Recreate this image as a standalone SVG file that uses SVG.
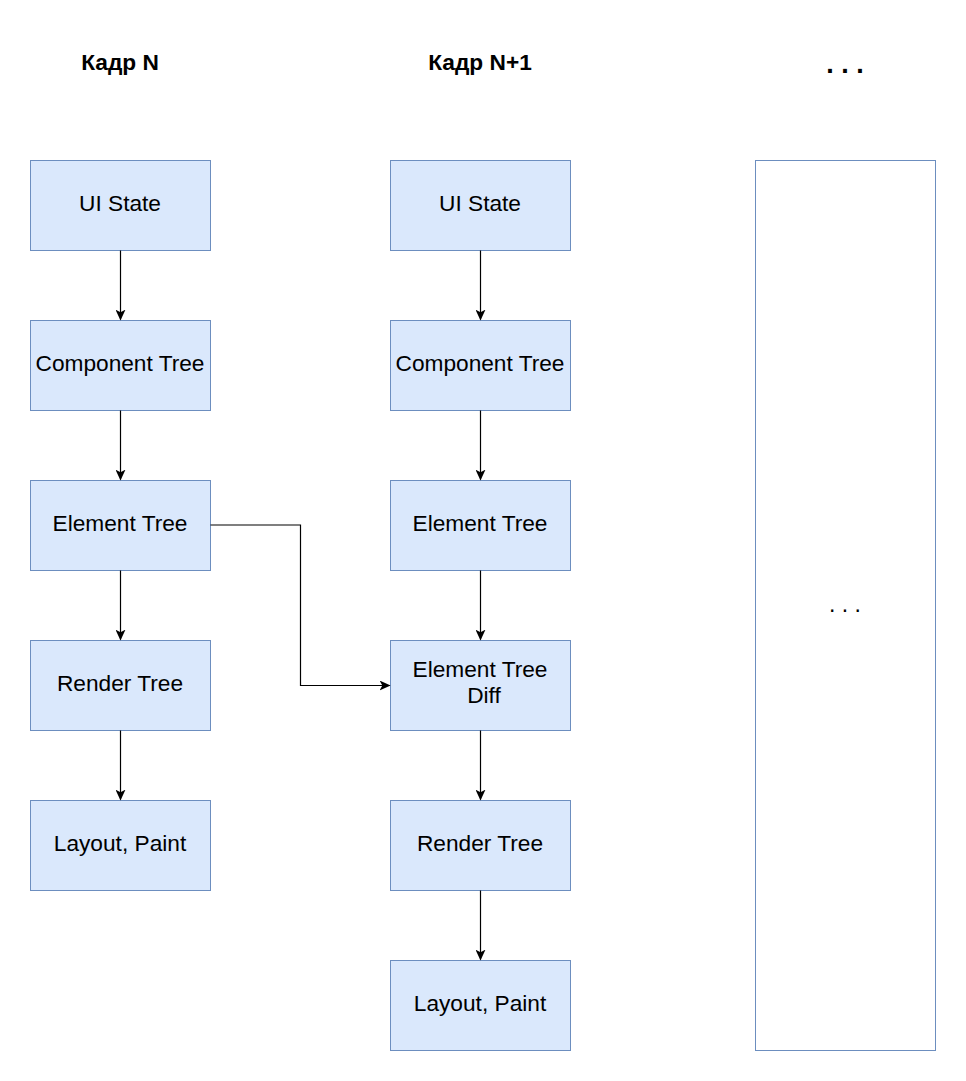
<svg xmlns="http://www.w3.org/2000/svg" width="966" height="1081" viewBox="0 0 966 1081">
<style>
.box{fill:#dae8fc;stroke:#6c8ebf;stroke-width:1}
.lbl{font-family:"Liberation Sans",Arial,sans-serif;font-size:22.7px;fill:#000;text-anchor:middle}
.ttl{font-family:"Liberation Sans",Arial,sans-serif;font-size:22.7px;font-weight:bold;fill:#000;text-anchor:middle}
.edge{fill:none;stroke:#000;stroke-width:1.2}
</style>
<defs>
<marker id="arr" viewBox="0 0 10 10" refX="9" refY="5" markerWidth="11" markerHeight="10" markerUnits="userSpaceOnUse" orient="auto" preserveAspectRatio="none">
<path d="M0,0 L10,5 L0,10 L2.5,5 Z" fill="#000"/>
</marker>
</defs>
<rect width="966" height="1081" fill="#fff"/>
<g id="title-n"><text class="ttl" x="120" y="70">Кадр N</text></g>
<g id="title-n1"><text class="ttl" x="480" y="70">Кадр N+1</text></g>
<g id="title-dots"><text class="ttl" x="845" y="73" style="font-size:27px">. . .</text></g>

<g id="n-ui"><rect class="box" x="30.5" y="160.5" width="180" height="90"/><text class="lbl" x="120" y="211">UI State</text></g>
<g id="n-comp"><rect class="box" x="30.5" y="320.5" width="180" height="90"/><text class="lbl" x="120" y="371">Component Tree</text></g>
<g id="n-elem"><rect class="box" x="30.5" y="480.5" width="180" height="90"/><text class="lbl" x="120" y="531">Element Tree</text></g>
<g id="n-render"><rect class="box" x="30.5" y="640.5" width="180" height="90"/><text class="lbl" x="120" y="691">Render Tree</text></g>
<g id="n-layout"><rect class="box" x="30.5" y="800.5" width="180" height="90"/><text class="lbl" x="120" y="851">Layout, Paint</text></g>

<g id="n1-ui"><rect class="box" x="390.5" y="160.5" width="180" height="90"/><text class="lbl" x="480" y="211">UI State</text></g>
<g id="n1-comp"><rect class="box" x="390.5" y="320.5" width="180" height="90"/><text class="lbl" x="480" y="371">Component Tree</text></g>
<g id="n1-elem"><rect class="box" x="390.5" y="480.5" width="180" height="90"/><text class="lbl" x="480" y="531">Element Tree</text></g>
<g id="n1-diff"><rect class="box" x="390.5" y="640.5" width="180" height="90"/><text class="lbl" x="480" y="677">Element Tree</text><text class="lbl" x="484" y="703">Diff</text></g>
<g id="n1-render"><rect class="box" x="390.5" y="800.5" width="180" height="90"/><text class="lbl" x="480" y="851">Render Tree</text></g>
<g id="n1-layout"><rect class="box" x="390.5" y="960.5" width="180" height="90"/><text class="lbl" x="480" y="1011">Layout, Paint</text></g>

<g id="more"><rect x="755.5" y="160.5" width="180" height="890" fill="#fff" stroke="#6c8ebf" stroke-width="1"/><text class="lbl" x="845" y="612" style="font-size:23px">. . .</text></g>

<g id="connectors">
<path class="edge" d="M120.5,250.5 V319.5" marker-end="url(#arr)"/>
<path class="edge" d="M120.5,410.5 V479.5" marker-end="url(#arr)"/>
<path class="edge" d="M120.5,570.5 V639.5" marker-end="url(#arr)"/>
<path class="edge" d="M120.5,730.5 V799.5" marker-end="url(#arr)"/>
<path class="edge" d="M480.5,250.5 V319.5" marker-end="url(#arr)"/>
<path class="edge" d="M480.5,410.5 V479.5" marker-end="url(#arr)"/>
<path class="edge" d="M480.5,570.5 V639.5" marker-end="url(#arr)"/>
<path class="edge" d="M480.5,730.5 V799.5" marker-end="url(#arr)"/>
<path class="edge" d="M480.5,890.5 V959.5" marker-end="url(#arr)"/>
<path class="edge" d="M210.5,525 H300.5 V685.5 H389.5" marker-end="url(#arr)"/>
</g>
</svg>
